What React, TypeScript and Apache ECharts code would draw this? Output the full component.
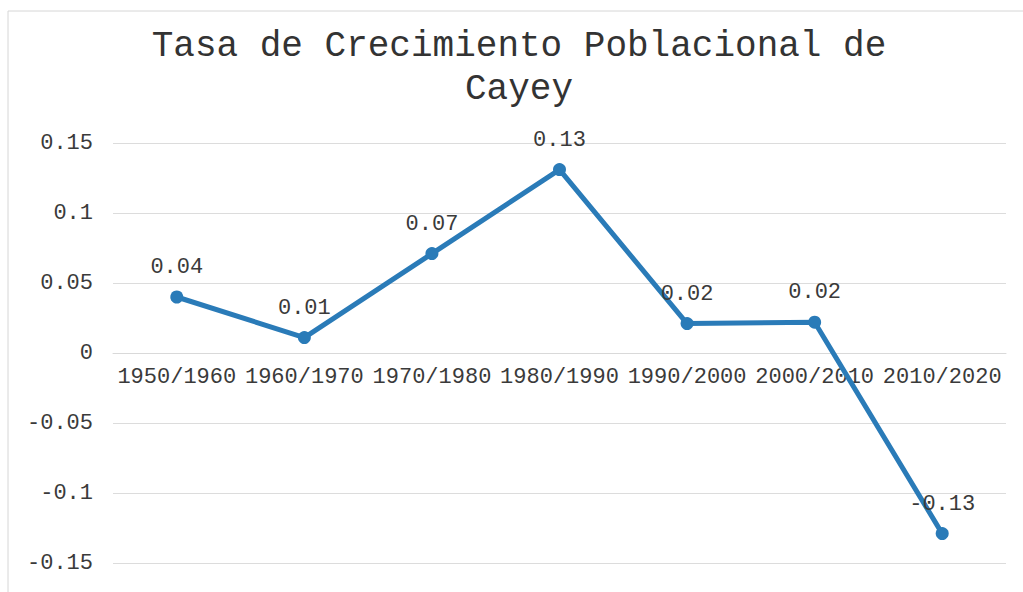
import React, { useEffect, useRef } from "react";
import * as echarts from "echarts";

const titleText = "Tasa de Crecimiento Poblacional de\nCayey";
const categories = ["1950/1960", "1960/1970", "1970/1980", "1980/1990", "1990/2000", "2000/2010", "2010/2020"];
const growthRates = [0.04, 0.011, 0.071, 0.131, 0.021, 0.022, -0.129];
const yTicks = [-0.15, -0.1, -0.05, 0, 0.05, 0.1, 0.15];

const MONO = '"Liberation Mono", "DejaVu Sans Mono", monospace';

export default function App() {
  const ref = useRef<HTMLDivElement>(null);
  useEffect(() => {
    if (!ref.current) return;
    const chart = echarts.init(ref.current, undefined, { renderer: "svg" });
    chart.setOption({
      animation: false,
      backgroundColor: "#ffffff",
      graphic: [
        {
          type: "rect",
          shape: { x: 8, y: 11, width: 1030, height: 600 },
          style: { fill: "none", stroke: "#d6d6d6", lineWidth: 1 },
          silent: true,
        },
        {
          type: "text",
          x: 519,
          y: 25,
          silent: true,
          style: {
            text: titleText,
            textAlign: "center",
            textVerticalAlign: "top",
            fontFamily: MONO,
            fontSize: 36,
            lineHeight: 43,
            fill: "#333333",
          },
        },
      ],
      grid: { left: 113, right: 17, top: 143, bottom: 29, containLabel: false },
      xAxis: {
        type: "category",
        data: categories,
        boundaryGap: true,
        position: "bottom",
        offset: -210,
        axisLine: { onZero: false, lineStyle: { color: "#d9d9d9", width: 1 } },
        axisTick: { show: false },
        axisLabel: {
          fontFamily: MONO,
          fontSize: 22,
          color: "#3a3a3a",
          margin: 13,
          interval: 0,
        },
        splitLine: { show: false },
      },
      yAxis: {
        type: "value",
        min: yTicks[0],
        max: yTicks[yTicks.length - 1],
        interval: 0.05,
        axisLine: { show: false },
        axisTick: { show: false },
        axisLabel: {
          fontFamily: MONO,
          fontSize: 22,
          color: "#3a3a3a",
          margin: 20,
          formatter: (v: number) => {
            const r = Math.round(v * 100) / 100;
            return String(r);
          },
        },
        splitLine: { lineStyle: { color: "#dcdcdc", width: 1 } },
      },
      series: [
        {
          type: "line",
          data: growthRates,
          symbol: "circle",
          symbolSize: 13,
          lineStyle: { color: "#2a7bb8", width: 5 },
          itemStyle: { color: "#2a7bb8" },
          label: {
            show: true,
            position: "top",
            distance: 12,
            fontFamily: MONO,
            fontSize: 22,
            color: "#3a3a3a",
            formatter: (p: any) => (p.value as number).toFixed(2),
          },
        },
      ],
    });
    return () => chart.dispose();
  }, []);
  return (
    <div
      ref={ref}
      style={{ position: "fixed", left: 0, top: 0, width: 1023, height: 592 }}
    />
  );
}
